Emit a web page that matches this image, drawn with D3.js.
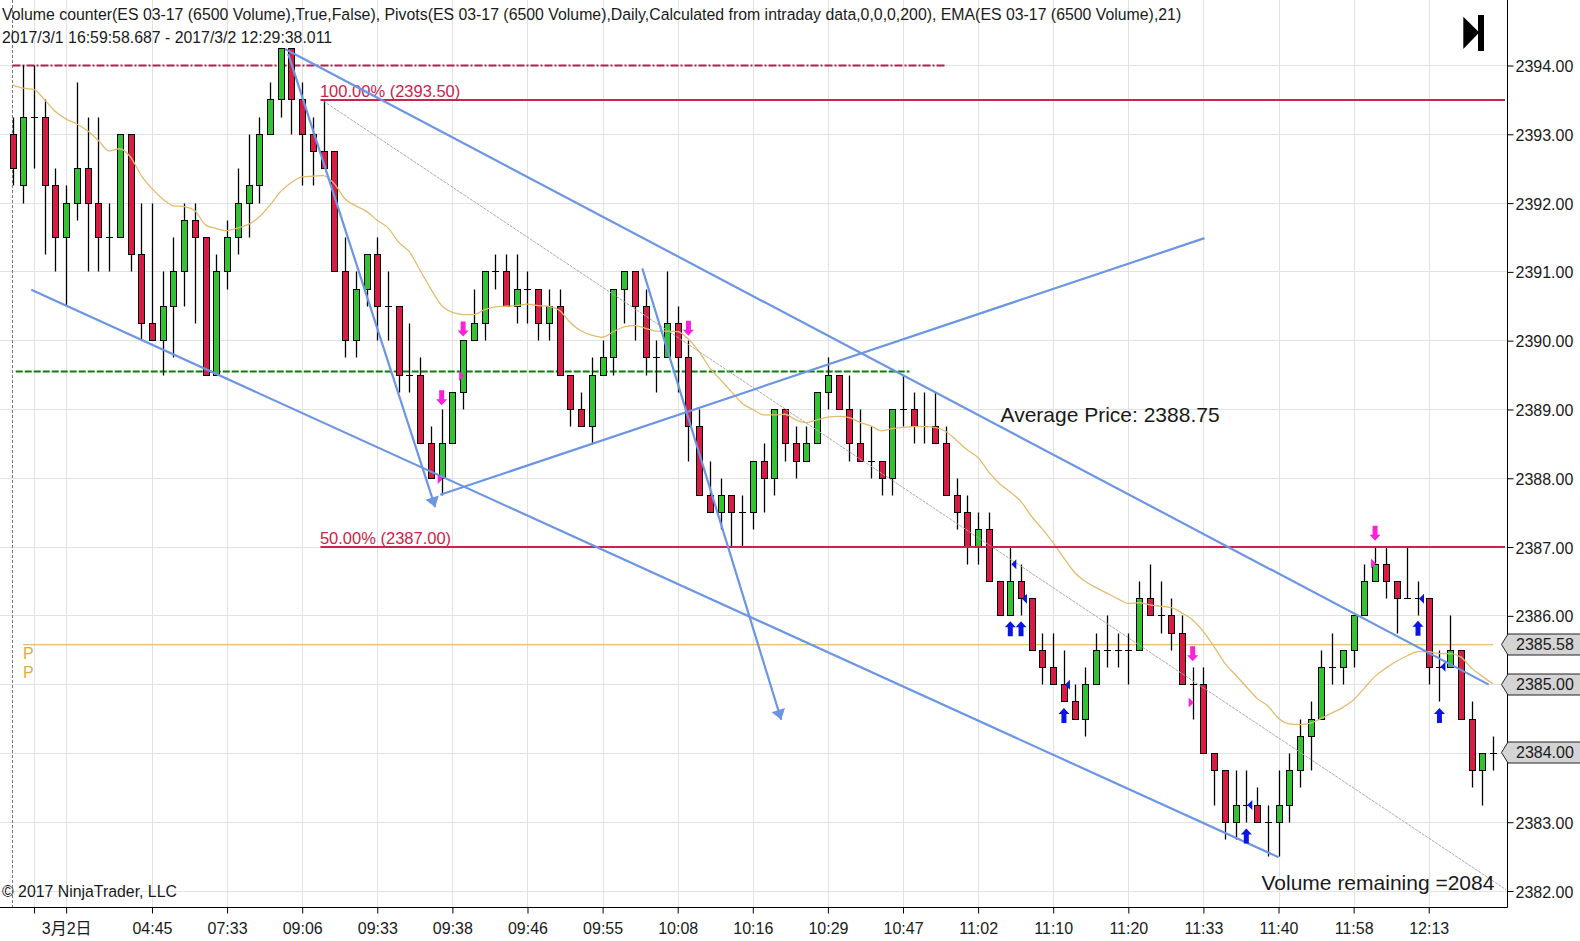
<!DOCTYPE html>
<html>
<head>
<meta charset="utf-8">
<script src="https://cdn.jsdelivr.net/npm/d3@7"></script>
<style>
  html, body { margin: 0; padding: 0; background: #fff; }
  svg { display: block; }
  text { font-family: "Liberation Sans", Arial, "Noto Sans CJK SC", sans-serif; fill: #1a1a1a; }
</style>
</head>
<body>
<div id="chart"></div>
<script>
// bars, one entry per bar, 0.25 point steps
const opens = [2393,2392.25,2393.25,2393.25,2392.25,2391.5,2392,2392.5,2392,2391.5,2391.5,2393,2391.25,2390.25,2390,2390.5,2391,2391.75,2391.5,2389.5,
  2391,2391.5,2392,2392.25,2393,2393.5,2394.25,2393.5,2393,2392.75,2392.75,2391,2390,2390.75,2391.25,2390.5,2390.5,2389.5,2389.5,2388.5,
  2388,2388.5,2389.25,2390,2390.25,2391,2391,2390.5,2390.75,2390.75,2390.25,2390.5,2389.5,2389,2388.75,2389.5,2389.75,2390.75,2391,2390.5,
  2389.75,2389.75,2390.25,2389.75,2388.75,2387.75,2387.5,2387.75,2387.5,2387.5,2388.25,2388,2389,2388.5,2388.25,2388.5,2389.25,2389.5,2389,2388.5,
  2388.25,2388.25,2388,2389,2389,2388.75,2388.75,2388.5,2387.75,2387.5,2387,2387.25,2386.5,2386,2386.5,2386.25,2385.5,2385.25,2385,2384.75,
  2384.5,2385,2385.5,2385.5,2385.5,2385.5,2386.25,2386,2386,2385.75,2385,2385,2384,2383.75,2383,2383.25,2383.25,2383,2383,2383.25,
  2383.75,2384.25,2384.5,2385.25,2385.25,2385.5,2386,2386.5,2386.75,2386.5,2386.25,2386.25,2386.25,2385.25,2385.25,2385.5,2384.5,2383.75,2384]
const highs = [2393.25,2394,2394,2393.5,2392.5,2392.25,2393.75,2393.25,2393.25,2392,2393,2393,2392,2392,2391,2391.5,2392,2392,2391.5,2391.25,
  2391.75,2392.5,2393,2393.25,2393.75,2394.25,2394.25,2393.75,2393.25,2393.5,2392.75,2391.5,2391,2391.25,2391.5,2391,2390.5,2390.25,2389.75,2388.75,
  2389,2389.25,2390,2390.75,2391,2391.25,2391.25,2391.25,2391,2390.75,2390.75,2390.75,2389.5,2389.25,2389.75,2390,2390.75,2391,2391,2390.75,
  2390,2391,2390.5,2390,2389,2388.25,2388,2387.75,2387.75,2388.25,2388.5,2389,2389,2388.75,2388.75,2389.25,2389.75,2389.5,2389.5,2389,
  2388.75,2388.25,2389,2389.5,2389.25,2389.25,2389.25,2388.75,2388,2387.75,2387.5,2387.5,2386.5,2387,2386.75,2386.25,2385.75,2385.75,2385.5,2385,
  2385.25,2385.75,2386,2385.75,2385.75,2386.5,2386.75,2386.5,2386.25,2386,2385.25,2385.25,2384,2383.75,2383.75,2383.75,2383.5,2383.25,2383.75,2384,
  2384.5,2384.75,2385.5,2385.75,2385.5,2386,2386.75,2387,2387,2386.5,2387,2386.5,2386.25,2385.5,2386,2385.5,2384.75,2384,2384.25]
const lows = [2392.25,2392,2392.5,2391.25,2391,2390.5,2391.75,2391,2391,2391,2391.5,2391,2390,2390,2389.5,2389.75,2390.5,2390.25,2389.5,2389.5,
  2390.75,2391.25,2391.5,2392,2393,2393.25,2393,2392.25,2392.25,2392.5,2391,2389.75,2389.75,2390.5,2390,2390,2389.25,2389.25,2388.5,2388,
  2387.75,2388.5,2389,2390,2390,2390.75,2390.5,2390.25,2390.25,2390,2390,2389.5,2388.75,2388.75,2388.5,2389.5,2389.5,2390.25,2390,2389.5,
  2389.25,2389.75,2389.25,2388.25,2387.75,2387.5,2387.25,2387,2387,2387.25,2387.5,2387.75,2388.25,2388,2388.25,2388.5,2389,2389,2388.25,2388.25,
  2388,2387.75,2387.75,2388.75,2388.5,2388.5,2388.5,2387.75,2387.25,2386.75,2386.75,2386.5,2386,2386,2386,2385.5,2385,2385,2384.75,2384.5,
  2384.25,2385,2385.25,2385.25,2385,2385.5,2386,2385.75,2385.5,2385,2384.5,2384,2383.25,2382.75,2382.75,2383,2383,2382.5,2382.5,2383,
  2383.5,2383.75,2384.5,2385,2385,2385.25,2386,2386.5,2386.25,2385.75,2386.25,2386,2385,2384.75,2385.25,2384.5,2383.5,2383.25,2383.75]
const closes = [2392.5,2393.25,2393.25,2392.25,2391.5,2392,2392.5,2392,2391.5,2391.5,2393,2391.25,2390.25,2390,2390.5,2391,2391.75,2391.5,2389.5,2391,
  2391.5,2392,2392.25,2393,2393.5,2394.25,2393.5,2393,2392.75,2392.5,2391,2390,2390.75,2391.25,2390.5,2390.5,2389.5,2389.5,2388.5,2388,
  2388.5,2389.25,2390,2390.25,2391,2391,2390.5,2390.75,2390.75,2390.25,2390.5,2389.5,2389,2388.75,2389.5,2389.75,2390.75,2391,2390.5,2389.75,
  2389.75,2390.25,2389.75,2388.75,2387.75,2387.5,2387.75,2387.5,2387.5,2388.25,2388,2389,2388.5,2388.25,2388.5,2389.25,2389.5,2389,2388.5,2388.25,
  2388.25,2388,2389,2389,2388.75,2388.75,2388.5,2387.75,2387.5,2387,2387.25,2386.5,2386,2386.5,2386.25,2385.5,2385.25,2385,2384.75,2384.5,
  2385,2385.5,2385.5,2385.5,2385.5,2386.25,2386,2386,2385.75,2385,2385,2384,2383.75,2383,2383.25,2383.25,2383,2383,2383.25,2383.75,
  2384.25,2384.5,2385.25,2385.25,2385.5,2386,2386.5,2386.75,2386.5,2386.25,2386.25,2386.25,2385.25,2385.25,2385.5,2384.5,2383.75,2384,2384]
// EMA(21)
const ema = [2393.72,2393.67,2393.65,2393.5,2393.33,2393.22,2393.15,2393.05,2392.91,2392.76,2392.79,2392.67,2392.4,2392.21,2392.06,2391.96,2391.95,2391.89,2391.68,2391.63,
  2391.6,2391.64,2391.69,2391.8,2391.97,2392.17,2392.3,2392.38,2392.39,2392.4,2392.28,2392.06,2391.96,2391.88,2391.75,2391.64,2391.43,2391.29,2391.02,2390.75,
  2390.51,2390.41,2390.38,2390.38,2390.45,2390.49,2390.5,2390.51,2390.53,2390.51,2390.5,2390.44,2390.26,2390.14,2390.08,2390.05,2390.13,2390.2,2390.22,2390.18,
  2390.14,2390.14,2390.13,2390.02,2389.84,2389.6,2389.43,2389.26,2389.09,2389,2388.92,2388.92,2388.93,2388.85,2388.81,2388.85,2388.89,2388.9,2388.88,2388.81,
  2388.76,2388.69,2388.72,2388.74,2388.75,2388.75,2388.74,2388.68,2388.55,2388.41,2388.3,2388.09,2387.92,2387.8,2387.66,2387.44,2387.26,2387.06,2386.84,2386.63,
  2386.5,2386.41,2386.33,2386.25,2386.18,2386.19,2386.16,2386.14,2386.12,2386.04,2385.94,2385.77,2385.55,2385.31,2385.14,2384.97,2384.8,2384.69,2384.51,2384.43,
  2384.42,2384.44,2384.51,2384.59,2384.67,2384.78,2384.95,2385.12,2385.24,2385.34,2385.42,2385.48,2385.48,2385.45,2385.45,2385.4,2385.24,2385.12,2385.01]

const priceTicks = [2382,2383,2384,2385,2386,2387,2388,2389,2390,2391,2392,2393,2394]
const timeTickBars = [5,13,20,27,34,41,48,55,62,69,76,83,90,97,104,111,118,125,132]
const timeTickLabels = ["3月2日","04:45","07:33","09:06","09:33","09:38","09:46","09:55","10:08","10:16","10:29","10:47","11:02","11:10","11:20","11:33","11:40","11:58","12:13"]
const extraTickBars = [2]
const tagPrices = [2385.58,2385,2384]

// trend lines drawn on the chart, [bar, price] pairs
const channelLow = [[1.75,2390.74],[118,2382.49]]
const channelHigh = [[25.4,2394.24],[137.6,2385]]
const riseLine = [[39.86,2387.76],[111.1,2391.49]]
const arrowLines = [[[25.7,2394.17],[39.4,2387.58]],[[58.7,2391.05],[71.65,2384.49]]]
const fibDiag = [[29,2393.48],[139.2,2382.02]]
const fibBars = 28.7
const fibLevels = [2393.5,2387]
const fibLabels = ["100.00% (2393.50)","50.00% (2387.00)"]
const priorHigh = [[0,2394],[87,2394]]
const priorLow = [[0.3,2389.55],[83.6,2389.55]]
const pivotLine = [[1,2385.58],[138,2385.58]]

// signals
const pinkDown = [[40,2389.06],[42,2390.06],[63,2390.07],[110,2385.34],[127,2387.09]]
const blueUp = [[93,2385.92],[94,2385.92],[98,2384.66],[115,2382.91],[131,2385.93],[133,2384.66]]
const pinkTri = [[40,2387.99],[42,2389.49],[110,2384.74],[127,2386.76]]
const blueTri = [[93,2386.75],[94,2386.25],[98,2385],[115,2383.25],[131,2386.25],[133,2385.26]]

const width = 1580, height = 941
const plotRight = 1507, plotBottom = 907

const x = d3.scaleLinear().domain([0,138]).range([12.5,1493.1])
const y = d3.scaleLinear().domain([2394,2382]).range([65.5,891])

// snap to the pixel grid so wicks and bodies stay crisp
const sx = v => Math.round(x(v)) + 0.5
const sy = v => Math.floor(y(v)) + 0.5

const red = "#d91c44", green = "#33c233", blue = "#6c96e4", fibRed = "#c9244c"

const svg = d3.select("#chart").append("svg")
  .attr("width", width)
  .attr("height", height)

// grid
const grid = svg.append("g").attr("stroke", "#e2e2e2").attr("stroke-width", 1)
grid.selectAll("line.h").data(priceTicks).enter().append("line")
  .attr("x1", 0).attr("x2", plotRight)
  .attr("y1", d => sy(d)).attr("y2", d => sy(d))
grid.selectAll("line.v").data(extraTickBars.concat(timeTickBars)).enter().append("line")
  .attr("y1", 0).attr("y2", plotBottom)
  .attr("x1", d => sx(d)).attr("x2", d => sx(d))

// session break
svg.append("line")
  .attr("x1", 12.5).attr("x2", 12.5).attr("y1", 0).attr("y2", plotBottom)
  .attr("stroke", "#777").attr("stroke-dasharray", "3,2")

// axes
const xAxis = g => g
  .attr("transform", `translate(0,${plotBottom + 0.5})`)
  .call(d3.axisBottom(x)
    .tickValues(extraTickBars.concat(timeTickBars))
    .tickSize(6)
    .tickPadding(9)
    .tickFormat(d => {
      const k = timeTickBars.indexOf(d)
      return k < 0 ? "" : timeTickLabels[k]
    }))
  .call(g => g.select(".domain").remove())
  .call(g => g.selectAll("text").style("font-size", "16px"))

const yAxis = g => g
  .attr("transform", `translate(${plotRight + 0.5},0)`)
  .call(d3.axisRight(y)
    .tickValues(priceTicks)
    .tickSize(6)
    .tickPadding(2)
    .tickFormat(d3.format(".2f")))
  .call(g => g.select(".domain").remove())
  .call(g => g.selectAll("text").style("font-size", "16px").attr("dy", "0.38em"))

svg.append("g").call(xAxis)
svg.append("g").call(yAxis)

svg.append("line").attr("x1", 0).attr("x2", plotRight + 0.5)
  .attr("y1", plotBottom + 0.5).attr("y2", plotBottom + 0.5).attr("stroke", "#000")
svg.append("line").attr("x1", plotRight + 0.5).attr("x2", plotRight + 0.5)
  .attr("y1", 0).attr("y2", plotBottom + 0.5).attr("stroke", "#000")

const line = d3.line().x(d => x(d[0])).y(d => y(d[1]))

// levels behind the bars
svg.append("path").attr("d", line(pivotLine))
  .attr("fill", "none").attr("stroke", "#dcae3c").attr("stroke-width", 1.2)
svg.append("path").attr("d", line(priorHigh))
  .attr("fill", "none").attr("stroke", "#a8234e").attr("stroke-width", 2)
  .attr("stroke-dasharray", "8,2,2,2")
svg.append("path").attr("d", line(priorLow))
  .attr("fill", "none").attr("stroke", "#0c7d0c").attr("stroke-width", 2)
  .attr("stroke-dasharray", "7,2")

// bars
const bars = d3.range(opens.length).map(i => ({
  i, o: opens[i], h: highs[i], l: lows[i], c: closes[i]
}))
const barG = svg.append("g")
barG.selectAll("line.wick").data(bars).enter().append("line")
  .attr("x1", d => sx(d.i)).attr("x2", d => sx(d.i))
  .attr("y1", d => sy(d.h)).attr("y2", d => sy(d.l))
  .attr("stroke", "#000").attr("stroke-width", 1.3)
barG.selectAll("rect").data(bars.filter(d => d.o !== d.c)).enter().append("rect")
  .attr("x", d => sx(d.i) - 3)
  .attr("width", 6)
  .attr("y", d => sy(Math.max(d.o, d.c)))
  .attr("height", d => sy(Math.min(d.o, d.c)) - sy(Math.max(d.o, d.c)))
  .attr("fill", d => d.c > d.o ? green : red)
  .attr("stroke", "#000").attr("stroke-width", 1)
barG.selectAll("line.doji").data(bars.filter(d => d.o === d.c)).enter().append("line")
  .attr("x1", d => sx(d.i) - 3.5).attr("x2", d => sx(d.i) + 3.5)
  .attr("y1", d => sy(d.o)).attr("y2", d => sy(d.o))
  .attr("stroke", "#000").attr("stroke-width", 1)

// EMA
svg.append("path")
  .attr("d", d3.line().x((d, i) => x(i)).y(d => y(d)).curve(d3.curveMonotoneX)(ema))
  .attr("fill", "none").attr("stroke", "#e2bc6c").attr("stroke-width", 1.3)

// fib lines
svg.append("path").attr("d", line(fibDiag))
  .attr("fill", "none").attr("stroke", "#aaa").attr("stroke-width", 1)
  .attr("stroke-dasharray", "3,1")
fibLevels.forEach((p, k) => {
  svg.append("line")
    .attr("x1", x(fibBars)).attr("x2", 1505)
    .attr("y1", y(p)).attr("y2", y(p))
    .attr("stroke", fibRed).attr("stroke-width", 2)
  svg.append("text")
    .attr("x", x(fibBars) - 0.5)
    .attr("y", y(p) - 3)
    .style("font-size", "16.5px")
    .style("fill", fibRed)
    .text(fibLabels[k])
})

// trend lines
;[channelLow, channelHigh, riseLine].concat(arrowLines).forEach(pts => {
  svg.append("path").attr("d", line(pts))
    .attr("fill", "none").attr("stroke", blue).attr("stroke-width", 2.2)
})
arrowLines.forEach(pts => {
  const tipX = x(pts[1][0]), tipY = y(pts[1][1])
  const a = Math.atan2(tipY - y(pts[0][1]), tipX - x(pts[0][0]))
  const back = 10, half = 7
  const bx = tipX - back * Math.cos(a), by = tipY - back * Math.sin(a)
  const nx = -Math.sin(a), ny = Math.cos(a)
  svg.append("polygon")
    .attr("points", [[tipX, tipY], [bx + nx * half, by + ny * half], [bx - nx * half, by - ny * half]].join(" "))
    .attr("fill", blue)
})

// signal arrows, tip at the price
const arrowPath = (px, py, dir) => {
  // dir 1 points down, -1 points up
  const tail = py - dir * 15, neck = py - dir * 6
  return `M${px - 2.5},${tail}L${px + 2.5},${tail}L${px + 2.5},${neck}L${px + 5.5},${neck}L${px},${py}L${px - 5.5},${neck}L${px - 2.5},${neck}Z`
}
svg.selectAll("path.pd").data(pinkDown).enter().append("path")
  .attr("d", d => arrowPath(x(d[0]), y(d[1]), 1)).attr("fill", "#ff1fdc")
svg.selectAll("path.bu").data(blueUp).enter().append("path")
  .attr("d", d => arrowPath(x(d[0]), y(d[1]), -1)).attr("fill", "#0a14e6")
svg.selectAll("path.pt").data(pinkTri).enter().append("path")
  .attr("d", d => `M${x(d[0]) - 4},${y(d[1]) - 5}L${x(d[0]) + 1},${y(d[1])}L${x(d[0]) - 4},${y(d[1]) + 5}Z`)
  .attr("fill", "#ff1fdc")
svg.selectAll("path.bt").data(blueTri).enter().append("path")
  .attr("d", d => `M${x(d[0]) + 6},${y(d[1]) - 5}L${x(d[0]) + 1},${y(d[1])}L${x(d[0]) + 6},${y(d[1]) + 5}Z`)
  .attr("fill", "#0a14e6")

// price tags on the axis
const tags = svg.append("g").selectAll("g").data(tagPrices).enter().append("g")
  .attr("transform", d => `translate(0,${Math.round(y(d)) - 0.5})`)
tags.append("path")
  .attr("d", "M1501.5,0L1508,-10.5L1585,-10.5L1585,10.5L1508,10.5Z")
  .attr("fill", "#d4d4d4").attr("stroke", "#222").attr("stroke-width", 1)
tags.append("text")
  .attr("x", 1516)
  .attr("dy", "0.36em")
  .style("font-size", "16px")
  .text(d => d.toFixed(2))

// text
svg.append("text").attr("x", 2).attr("y", 20).style("font-size", "15.85px")
  .text("Volume counter(ES 03-17 (6500 Volume),True,False), Pivots(ES 03-17 (6500 Volume),Daily,Calculated from intraday data,0,0,0,200), EMA(ES 03-17 (6500 Volume),21)")
svg.append("text").attr("x", 2).attr("y", 43).style("font-size", "15.85px")
  .text("2017/3/1 16:59:58.687 - 2017/3/2 12:29:38.011")
svg.append("text").attr("x", 1000.5).attr("y", 422).style("font-size", "21px")
  .text("Average Price: 2388.75")
svg.append("text").attr("x", 1261.5).attr("y", 890).style("font-size", "21px")
  .text("Volume remaining =2084")
svg.append("text").attr("x", 2).attr("y", 897).style("font-size", "15.85px")
  .text("© 2017 NinjaTrader, LLC")
;[653, 672].forEach(py => {
  svg.append("text").attr("x", 23).attr("y", py + 6).style("font-size", "16px")
    .style("fill", "#dcae3c").text("P")
})

// go to last bar button
svg.append("polygon").attr("points", "1463.3,16.7 1463.3,49 1479.3,32.5").attr("fill", "#000")
svg.append("rect").attr("x", 1478).attr("y", 15).attr("width", 6).attr("height", 36).attr("fill", "#000")
</script>
</body>
</html>
